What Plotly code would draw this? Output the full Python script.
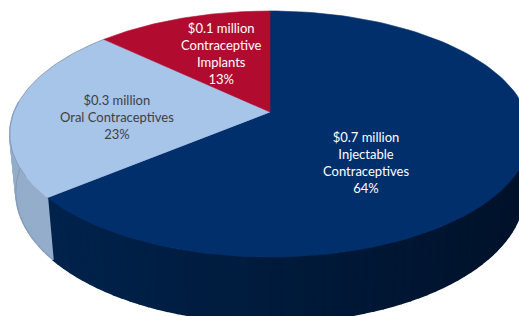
import numpy as np
import plotly.graph_objects as go

# ---- data ----
categories = ["Injectable<br>Contraceptives", "Oral Contraceptives", "Contraceptive<br>Implants"]
amounts_musd = [0.7, 0.3, 0.1]
shares_pct = [64, 23, 13]

# ---- style ----
top_colors = ["#002F6B", "#A7C4E9", "#B20B30"]
side_left = ["#00244F", "#93ADCB", "#8A0822"]
side_right = ["#00122A", "#93ADCB", "#8A0822"]
text_colors = ["white", "#3F3F3F", "white"]
W, HGT = 519, 316

# perspective projection of a tilted disc (pixel space)
CX, CY = 270, 112
FX, FY = 1275, 1305
D = 4.98
SA, CA = 0.4545, 0.891
DEPTH = 0.25


def proj(theta_deg, r=1.0, z=0.0):
    t = np.radians(theta_deg)
    X = r * np.sin(t)
    Y = r * np.cos(t)
    v = Y * SA + z * CA
    w = D + Y * CA - z * SA
    return CX + FX * X / w, CY - FY * v / w


def hex2rgb(h):
    h = h.lstrip("#")
    return [int(h[i:i + 2], 16) for i in (0, 2, 4)]


def mix(c1, c2, f):
    a, b = hex2rgb(c1), hex2rgb(c2)
    return "rgb(%d,%d,%d)" % tuple(round(a[i] + (b[i] - a[i]) * f) for i in range(3))


total = sum(shares_pct)
bounds = np.concatenate([[0], np.cumsum(shares_pct)]) / total * 360.0

fig = go.Figure()

# side walls (front half only), drawn as thin strips for a horizontal gradient
for i in range(len(shares_pct)):
    a0, a1 = max(bounds[i], 85.0), min(bounds[i + 1], 275.0)
    if a1 <= a0:
        continue
    n = max(2, int((a1 - a0) / 2.0))
    edges = np.linspace(a0, a1, n + 1)
    for k in range(n):
        th = np.linspace(edges[k], edges[k + 1], 4)
        tx, ty = proj(th)
        bx, by = proj(th[::-1], z=-DEPTH)
        xs = np.concatenate([tx, bx, tx[:1]])
        ys = np.concatenate([ty, by, ty[:1]])
        f = float(np.clip(np.mean(tx) / W, 0, 1))
        col = mix(side_left[i], side_right[i], f)
        fig.add_trace(go.Scatter(x=xs, y=ys, mode="lines", fill="toself",
                                 fillcolor=col, line=dict(color=col, width=1.6),
                                 hoverinfo="skip", showlegend=False))

# grey rim along the left silhouette of the side
th = np.linspace(bounds[1], 272, 30)
sx, sy = proj(th, z=-DEPTH)
fig.add_trace(go.Scatter(x=sx, y=sy, mode="lines", line=dict(color="rgba(120,130,145,0.5)", width=1),
                         hoverinfo="skip", showlegend=False))

# top faces
for i in range(len(shares_pct)):
    th = np.linspace(bounds[i], bounds[i + 1], 120)
    ax, ay = proj(th)
    x0, y0 = proj(0.0, r=0.0)
    xs = np.concatenate([[x0], ax, [x0]])
    ys = np.concatenate([[y0], ay, [y0]])
    fig.add_trace(go.Scatter(x=xs, y=ys, mode="lines", fill="toself",
                             fillcolor=top_colors[i], line=dict(color=top_colors[i], width=0.6),
                             hoverinfo="skip", showlegend=False))

# subtle grey rim on the light slice
th = np.linspace(bounds[1] + 10, bounds[2], 60)
rx, ry = proj(th)
fig.add_trace(go.Scatter(x=rx, y=ry, mode="lines", line=dict(color="rgba(110,120,135,0.5)", width=1),
                         hoverinfo="skip", showlegend=False))

# labels
label_r = [0.40, 0.60, 0.52]
label_dy = [30, 7, -6]
for i in range(len(shares_pct)):
    mid = (bounds[i] + bounds[i + 1]) / 2
    x, y = proj(mid, r=label_r[i])
    txt = "$%.1f million<br>%s<br>%d%%" % (amounts_musd[i], categories[i], shares_pct[i])
    fig.add_annotation(x=x, y=y + label_dy[i], text=txt, showarrow=False,
                       font=dict(family="Lato", size=13, color=text_colors[i]),
                       align="center", xanchor="center", yanchor="middle")

fig.update_xaxes(range=[0, W], visible=False, fixedrange=True)
fig.update_yaxes(range=[HGT, 0], visible=False, fixedrange=True)
fig.update_layout(width=W, height=HGT, margin=dict(l=0, r=0, t=0, b=0),
                  paper_bgcolor="white", plot_bgcolor="white")
fig.write_html("out.html", config={"displayModeBar": False},
               post_script="document.body.style.margin='0';document.body.style.overflow='hidden';")
